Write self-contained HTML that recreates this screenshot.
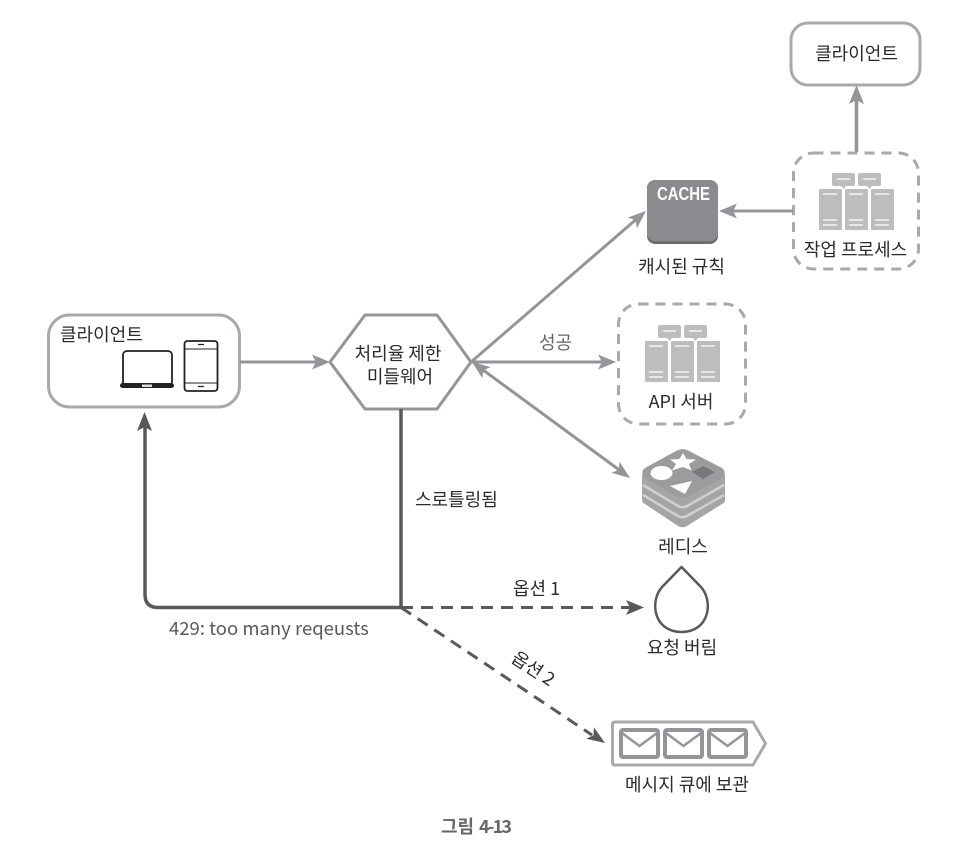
<!DOCTYPE html>
<html><head><meta charset="utf-8"><style>
html,body{margin:0;padding:0;background:#fff}
svg{display:block}
text{font-family:"Noto Sans CJK KR","Liberation Sans",sans-serif;fill:#2b2b2b;font-size:18px}
</style></head><body>
<svg width="955" height="854" viewBox="0 0 955 854" xmlns="http://www.w3.org/2000/svg">
<defs>
<g id="srv">
<path d="M15 0h19a2 2 0 0 1 2 2v9a2 2 0 0 1-2 2h-7l-2.500 3-2.500-3h-7a2 2 0 0 1-2-2V2a2 2 0 0 1 2-2z" fill="#bcbdbf"/>
<path d="M41 0h19a2 2 0 0 1 2 2v9a2 2 0 0 1-2 2h-7l-2.500 3-2.500-3h-7a2 2 0 0 1-2-2V2a2 2 0 0 1 2-2z" fill="#bcbdbf"/>
<rect x="0" y="16" width="23" height="41" rx="1" fill="#bcbdbf"/>
<rect x="26" y="16" width="23" height="41" rx="1" fill="#bcbdbf"/>
<rect x="52" y="16" width="23" height="41" rx="1" fill="#bcbdbf"/>
<path stroke="#fff" stroke-width="1.200" d="M4 21h14M4 47h14M4 52h14M30 21h14M30 47h14M30 52h14M56 21h14M56 47h14M56 52h14M18 6h13M44 6h13"/>
</g>
</defs>

<!-- top client -->
<rect x="791" y="23" width="129" height="62" rx="17" fill="#fff" stroke="#a7a9ab" stroke-width="3"/>
<text x="856.500" y="60" text-anchor="middle">클라이언트</text>

<!-- worker arrow -->
<path d="M856.500 152V100" stroke="#939598" stroke-width="3.500" fill="none"/>
<path d="M856.500 85L864 104L856.500 100L849 104Z" fill="#939598"/>

<!-- worker box -->
<rect x="793.500" y="153" width="125" height="116" rx="20" fill="none" stroke="#a7a9ab" stroke-width="3" stroke-dasharray="10 7"/>
<use href="#srv" x="819" y="173"/>
<text x="855.500" y="256" text-anchor="middle">작업 프로세스</text>

<!-- cache -->
<path d="M793 211H730" stroke="#939598" stroke-width="3" fill="none"/>
<path d="M719 211L737 203.500L733 211L737 218.500Z" fill="#939598"/>
<rect x="647" y="180" width="71" height="64" rx="8" fill="#6d6e71"/>
<rect x="647" y="180" width="71" height="61" rx="8" fill="#8a8b8e"/>
<text x="657" y="200" textLength="53" lengthAdjust="spacingAndGlyphs" style="font-family:'Liberation Sans',sans-serif;font-size:18.500px;font-weight:bold;fill:#fff">CACHE</text>
<text x="681.500" y="273" text-anchor="middle">캐시된 규칙</text>

<!-- left client -->
<rect x="48.500" y="315" width="191" height="92" rx="21" fill="#fff" stroke="#a7a9ab" stroke-width="3"/>
<text x="60" y="341">클라이언트</text>
<path d="M123 383V355a4 4 0 0 1 4-4h41a4 4 0 0 1 4 4v28" fill="none" stroke="#222" stroke-width="1.800"/>
<rect x="120" y="383" width="54" height="5" rx="2.500" fill="#222"/>
<rect x="142" y="384.500" width="10" height="2.500" fill="#ddd"/>
<rect x="184.500" y="341" width="33" height="50" rx="3" fill="#fff" stroke="#222" stroke-width="1.800"/>
<path d="M185 349H217M185 383H217" stroke="#222" stroke-width="1"/>
<path d="M198 344.500H204M198 386.500H204" stroke="#222" stroke-width="1.300"/>

<!-- client -> hex -->
<path d="M240 362H318" stroke="#939598" stroke-width="3" fill="none"/>
<path d="M330 362L312 354.500L316 362L312 369.500Z" fill="#939598"/>

<!-- hexagon -->
<path d="M330 362L365 315H437L471 362L437 409H365Z" fill="#fff" stroke="#939598" stroke-width="3" stroke-linejoin="round"/>
<text x="398" y="360" text-anchor="middle">처리율 제한</text>
<text x="400" y="383" text-anchor="middle">미들웨어</text>

<!-- hex to cache -->
<path d="M471 362L636 219.500" stroke="#939598" stroke-width="3" fill="none"/>
<path d="M646 211L637 228.100L635.400 220.100L627.800 217.500Z" fill="#939598"/>
<!-- success -->
<path d="M471 362H605" stroke="#939598" stroke-width="3" fill="none"/>
<path d="M616 362L598 354.500L602 362L598 369.500Z" fill="#939598"/>
<text x="555.500" y="349" text-anchor="middle" style="fill:#666">성공</text>
<!-- to redis -->
<path d="M479 367L622 472" stroke="#939598" stroke-width="3" fill="none"/>
<path d="M472 362L490.600 367.100L483.300 370.300L482.400 378.300Z" fill="#939598"/>
<path d="M630 478L611.400 472.900L618.700 469.700L619.600 461.700Z" fill="#939598"/>

<!-- API box -->
<rect x="618.500" y="304" width="127" height="120" rx="20" fill="none" stroke="#a7a9ab" stroke-width="3" stroke-dasharray="10 7"/>
<use href="#srv" x="645" y="325"/>
<text x="681" y="408" text-anchor="middle">API 서버</text>

<!-- redis -->
<path d="M642 475V500a5 5 0 0 0 3 4l33 22a9 9 0 0 0 9 0l35-22a5 5 0 0 0 3-4V475Z" fill="#a3a5a7"/>
<path d="M643 485L678 506a9 9 0 0 0 9 0L724 485" fill="none" stroke="#cfd0d2" stroke-width="2.500"/>
<path d="M643 495L678 516a9 9 0 0 0 9 0L724 495" fill="none" stroke="#cfd0d2" stroke-width="2.500"/>
<path d="M645 468L676 451a12 12 0 0 1 13 0L722 468a6 6 0 0 1 0 10L689 496a12 12 0 0 1-13 0L645 478a6 6 0 0 1 0-10z" fill="#9a9c9e"/>
<ellipse cx="661.500" cy="473" rx="11" ry="7" fill="#fff"/>
<path d="M683 453l3.500 6 9.500 .5-7 4.500 2.500 6.500-8.500-3.500-11 3.500 4-6.500-6-4.500 9.500-.5z" fill="#fff"/>
<path d="M670 486l22-5-7 13z" fill="#fff"/>
<path d="M692 472l11-6 12 6-12 7z" fill="#77787b"/>
<text x="683" y="553" text-anchor="middle">레디스</text>

<!-- throttle path -->
<path d="M401 409V607.500H158Q145 607.500 145 594.500V425" fill="none" stroke="#58595b" stroke-width="3.500"/>
<path d="M144.500 412L152 431L144.500 427L137 431Z" fill="#58595b"/>
<text x="415" y="506">스로틀링됨</text>
<text x="169" y="635" style="font-size:18.500px;fill:#58595b">429: too many reqeusts</text>

<!-- option 1 -->
<path d="M401 607.500H630" fill="none" stroke="#58595b" stroke-width="3" stroke-dasharray="12 8"/>
<path d="M644 607.500L626 600L630 607.500L626 615Z" fill="#58595b"/>
<text x="513" y="595">옵션 1</text>

<!-- drop -->
<path d="M681.500 567L700 586C714 600 710 632 681.500 632C653 632 649 600 663 586Z" fill="#fff" stroke="#58595b" stroke-width="2.500" stroke-linejoin="round"/>
<text x="682" y="654" text-anchor="middle">요청 버림</text>

<!-- option 2 -->
<path d="M401 607.500L592 735" fill="none" stroke="#58595b" stroke-width="3" stroke-dasharray="12 8"/>
<path d="M605 743L586.100 738.800L593.400 735.200L593.900 727.200Z" fill="#58595b"/>
<text x="0" y="0" transform="translate(510,661) rotate(33)">옵션 2</text>

<!-- queue -->
<path d="M615 722H753L765.500 743.500L753 765H615Q612.500 765 612.500 762.500V724.500Q612.500 722 615 722Z" fill="#fff" stroke="#a7a9ab" stroke-width="3"/>
<g fill="#fff" stroke="#939598" stroke-width="4">
<rect x="621" y="730" width="37" height="27" rx="2"/>
<rect x="665" y="730" width="37" height="27" rx="2"/>
<rect x="709" y="730" width="37" height="27" rx="2"/>
</g>
<path fill="none" stroke="#939598" stroke-width="2.500" d="M622 733L639.500 746L657 733M666 733L683.500 746L701 733M710 733L727.500 746L745 733"/>
<text x="687" y="791" text-anchor="middle">메시지 큐에 보관</text>

<!-- caption -->
<text x="441" y="833" style="font-size:18px;font-weight:bold;fill:#666">그림</text>
<text x="479" y="833" textLength="33" style="font-size:18px;font-weight:bold;fill:#666">4-13</text>
</svg>
</body></html>
